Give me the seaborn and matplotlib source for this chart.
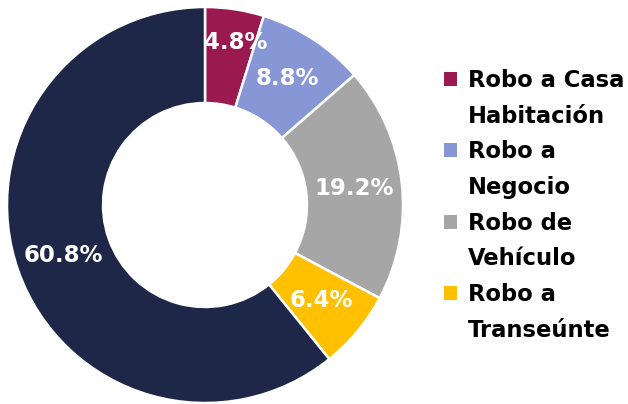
import numpy as np
import matplotlib
matplotlib.use("Agg")
import matplotlib.pyplot as plt
import seaborn as sns
from matplotlib.patches import Patch

# Robos por tipo (porcentaje)
categories = ["Robo a Casa\nHabitación", "Robo a\nNegocio", "Robo de\nVehículo",
              "Robo a\nTranseúnte", "Otros"]
values = [4.8, 8.8, 19.2, 6.4, 60.8]
colors = ["#9A1A4F", "#8796D4", "#A6A6A6", "#FFC000", "#1F2748"]
in_legend = [True, True, True, True, False]

sns.set_theme(style="white")
plt.rcParams['font.family'] = ['DejaVu Sans']

fig = plt.figure(figsize=(6.28, 4.04), dpi=100)
ax = fig.add_axes([7 / 628, 1 / 404, 396 / 628, 396 / 404])

wedges, texts, autotexts = ax.pie(
    values, colors=colors, startangle=90, counterclock=False,
    autopct="%.1f%%", pctdistance=0.76,
    wedgeprops=dict(width=0.485, edgecolor="white", linewidth=1.8),
    textprops=dict(color="white", fontsize=16.5, fontweight="bold"),
)
ax.set_xlim(-1, 1)
ax.set_ylim(-1, 1)
ax.set_aspect("equal")

# the smallest slice label sits a little further out
x, y = autotexts[0].get_position()
autotexts[0].set_position((x + 0.04, y + 0.07))

# legend: marker sits on the first line of each label
handles, labels = [], []
for cat, col, show in zip(categories, colors, in_legend):
    if not show:
        continue
    for j, line in enumerate(cat.split("\n")):
        if j == 0:
            handles.append(Patch(facecolor=col, edgecolor="none"))
        else:
            handles.append(Patch(facecolor="none", edgecolor="none"))
        labels.append(line)

leg = fig.legend(handles, labels, loc="upper left", bbox_to_anchor=(444 / 628, 1 - 69 / 404),
                 frameon=False, prop=dict(weight="bold", size=16.3), labelcolor="black",
                 handlelength=0.57, handleheight=0.57, handletextpad=0.48,
                 labelspacing=0.56, borderpad=0, borderaxespad=0)

fig.savefig("out.png", dpi=100)
